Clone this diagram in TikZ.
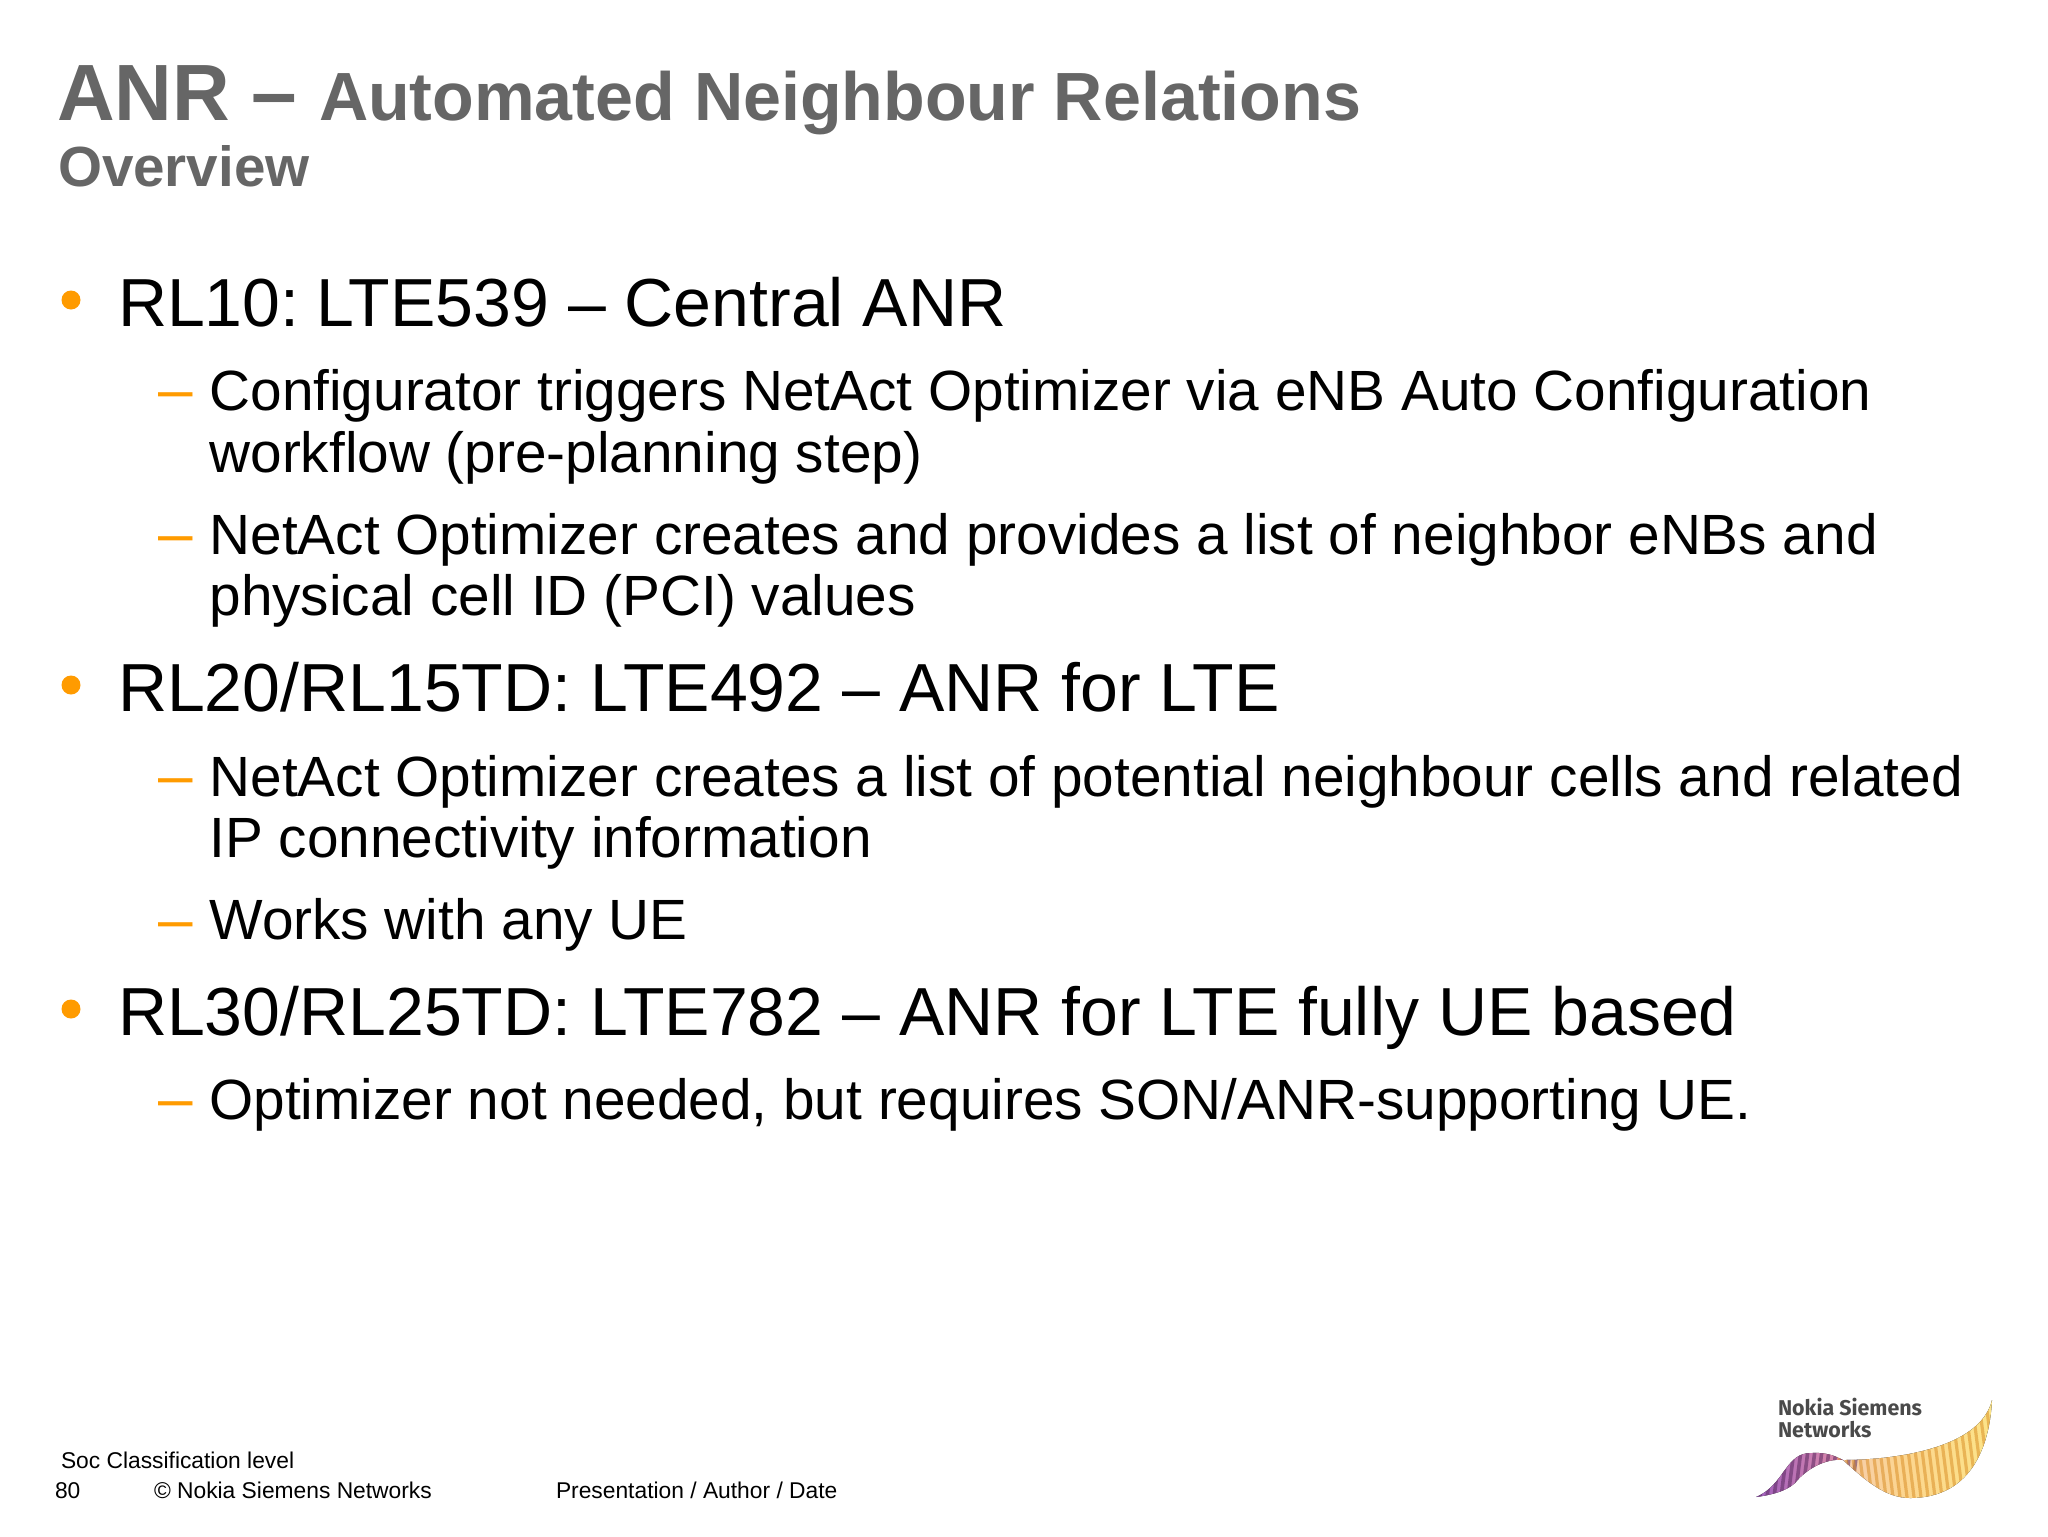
\documentclass[tikz,border=0pt]{standalone}
\usepackage{fontspec}
\setmainfont{Liberation Sans}
\newfontfamily\logofont{Fira Sans}
\definecolor{titlegray}{HTML}{666666}
\definecolor{accent}{HTML}{FF9B00}
\definecolor{logogray}{HTML}{4A4A4A}
\definecolor{wpurple}{HTML}{9A5CC0}
\definecolor{wpink}{HTML}{E08CA8}
\definecolor{wsalmon}{HTML}{F5CDB0}
\definecolor{worange}{HTML}{FCD590}
\definecolor{wyellow}{HTML}{FCE488}
\definecolor{sdark}{HTML}{5A2A60}
\definecolor{sgold}{HTML}{D88A20}
\tikzset{
  txt/.style={anchor=base west,inner sep=0pt,outer sep=0pt},
  lvlone/.style={txt,text=black,font=\fontsize{34}{34}\selectfont},
  lvltwo/.style={txt,text=black,font=\fontsize{28.37}{28.37}\selectfont},
  dashmark/.style={txt,text=accent,font=\fontsize{31}{31}\selectfont},
  foot/.style={txt,text=black,font=\fontsize{11.4}{11.4}\selectfont},
  logotext/.style={txt,text=logogray,font=\logofont\fontsize{10.7}{10.7}\selectfont\bfseries}
}
\begin{document}
\begin{tikzpicture}[x=0.5pt,y=-0.5pt]
\useasboundingbox (0,0) rectangle (2048,1536);
\fill[white] (0,0) rectangle (2048,1536);
% title
\node[txt,text=titlegray,font=\bfseries\fontsize{39.9}{39.9}\selectfont] (t1) at (57,120) {ANR};
\node[txt,text=titlegray,font=\bfseries\fontsize{41}{41}\selectfont] (t2) at (251,120) {–};
\node[txt,text=titlegray,font=\bfseries\fontsize{34.1}{34.1}\selectfont] (t3) at (319,120) {Automated Neighbour Relations};
\node[txt,text=titlegray,font=\bfseries\fontsize{28.3}{28.3}\selectfont] (t4) at (58,186) {Overview};
% level one
\fill[accent] (71,300) circle (9.5);
\fill[accent] (71,685) circle (9.5);
\fill[accent] (71,1009) circle (9.5);
\node[lvlone] (a) at (118,326) {RL10:\kern-1.1pt\ LTE539 – Central ANR};
\node[lvlone] (b) at (118,711) {RL20/RL15TD: LTE492 – ANR for LTE};
\node[lvlone] (c) at (118,1035) {RL30/RL25TD: LTE782 – ANR for LTE fully UE based};
% level two
\foreach \n/\y in {d1/410,d2/554,d3/796,d4/940,d5/1119}{
  \node[dashmark] (\n) at (158,\y) {–};
}
\node[lvltwo] (a1) at (209.5,410) {Configurator triggers NetAct Optimizer via eNB Auto Configuration};
\node[lvltwo] (a2) at (209.5,472) {workflow (pre-planning step)};
\node[lvltwo] (a3) at (209.5,554) {NetAct Optimizer creates and provides a list of neighbor eNBs and};
\node[lvltwo] (a4) at (209.5,615) {physical cell ID (PCI) values};
\node[lvltwo] (b1) at (209.5,796) {NetAct Optimizer creates a list of potential neighbour cells and related};
\node[lvltwo] (b2) at (209.5,857) {IP connectivity information};
\node[lvltwo] (b3) at (209.5,939) {Works with any UE};
\node[lvltwo] (c1) at (209.5,1119) {Optimizer not needed, but requires SON/ANR-supporting UE.};
% footer
\node[foot] (f1) at (61,1468) {Soc Classification level};
\node[foot] (f2) at (55,1498) {80};
\node[foot] (f3) at (154,1498) {© Nokia Siemens Networks};
\node[foot] (f4) at (556,1498) {Presentation / Author / Date};
% logo
\node[logotext] (l1) at (1778,1415) {Nokia Siemens};
\node[logotext] (l2) at (1778,1437) {Networks};
\begin{scope}
\clip (1756,1497) .. controls (1785,1485) and (1785,1452) .. (1812,1453)
      .. controls (1830,1452) and (1838,1458) .. (1843,1460)
      .. controls (1890,1460) and (1980,1450) .. (1992,1400)
      .. controls (1990,1440) and (1975,1498) .. (1910,1498)
      .. controls (1885,1498) and (1865,1480) .. (1843,1460)
      .. controls (1825,1458) and (1805,1470) .. (1795,1483)
      .. controls (1785,1492) and (1770,1495) .. (1756,1497) -- cycle;
\fill[left color=wpurple,right color=wpink] (1750,1395) rectangle (1843,1500);
\fill[left color=wsalmon,right color=worange] (1843,1395) rectangle (1900,1500);
\fill[left color=worange,right color=wyellow] (1900,1395) rectangle (1995,1500);
\foreach \k in {0,...,14}{
  \draw[sdark,opacity=0.55,line width=1.8] ({1752+7*\k},1505) -- ({1752+7*\k+14},1395);
}
\foreach \k in {0,...,22}{
  \draw[sgold,opacity=0.5,line width=1.6] ({1845+7*\k},1505) -- ({1845+7*\k-14},1395);
}
\end{scope}
\end{tikzpicture}
\end{document}
